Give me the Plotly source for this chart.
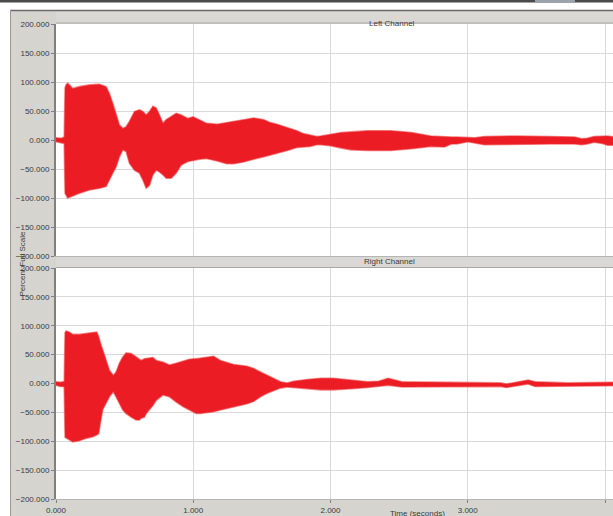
import plotly.graph_objects as go

# ---------------- data ----------------
left_t = [0.000, 0.020, 0.040, 0.060, 0.066, 0.073, 0.085, 0.122, 0.170, 0.243,
          0.316, 0.365, 0.389, 0.414, 0.438, 0.462, 0.487, 0.511, 0.535, 0.572,
          0.608, 0.633, 0.657, 0.681, 0.706, 0.730, 0.754, 0.779, 0.803, 0.839,
          0.876, 0.912, 0.961, 0.998, 1.046, 1.095, 1.175, 1.245, 1.295, 1.365,
          1.440, 1.515, 1.560, 1.610, 1.685, 1.755, 1.800, 1.850, 1.900, 1.930,
          2.000, 2.080, 2.150, 2.270, 2.440, 2.590, 2.730, 2.830, 2.880, 2.920,
          3.000, 3.050, 3.120, 3.360, 3.600, 3.780, 3.830, 3.870, 3.920, 3.980,
          4.020, 4.070]
left_upper = [4, 3, 3, 5, 90, 95, 98, 89, 92, 95,
              96, 92, 80, 63, 46, 26, 20, 23, 32, 49,
              52, 49, 43, 49, 58, 55, 43, 29, 35, 40,
              46, 43, 37, 40, 35, 29, 27, 30, 33, 35,
              38, 35, 30, 27, 22, 16, 11, 8, 6, 7,
              10, 13, 14, 16, 16, 13, 7, 5, 5, 5,
              5, 4, 6, 7, 6, 5, 2, 3, 6, 6,
              7, 5]
left_lower = [-3, -4, -5, -6, -92, -95, -100, -97, -92, -86,
              -83, -80, -69, -57, -46, -29, -17, -20, -40, -52,
              -57, -69, -83, -78, -60, -52, -55, -60, -66, -66,
              -57, -43, -37, -35, -33, -32, -36, -41, -41, -38,
              -33, -29, -27, -23, -18, -13, -12, -11, -8, -8,
              -10, -14, -17, -18, -18, -15, -11, -12, -7, -7,
              -3, -5, -8, -8, -7, -7, -8, -7, -4, -6,
              -9, -9]

right_t = [0.000, 0.030, 0.049, 0.060, 0.066, 0.073, 0.097, 0.122, 0.170, 0.219,
           0.268, 0.297, 0.311, 0.316, 0.329, 0.341, 0.365, 0.389, 0.418, 0.438,
           0.462, 0.487, 0.511, 0.547, 0.584, 0.608, 0.620, 0.645, 0.657, 0.681,
           0.706, 0.730, 0.779, 0.827, 0.876, 0.925, 0.973, 1.022, 1.051, 1.095,
           1.148, 1.197, 1.246, 1.294, 1.392, 1.440, 1.489, 1.538, 1.586, 1.635,
           1.684, 1.732, 1.830, 1.930, 2.020, 2.150, 2.270, 2.350, 2.420, 2.520,
           2.760, 3.000, 3.240, 3.280, 3.320, 3.440, 3.490, 3.730, 4.050, 4.070]
right_upper = [3, 2, 3, 3, 88, 91, 89, 85, 85, 87,
               88, 89, 81, 75, 66, 58, 40, 23, 14, 20,
               35, 46, 53, 52, 46, 41, 40, 43, 43, 44,
               45, 40, 37, 32, 35, 39, 42, 43, 44, 45,
               47, 40, 36, 33, 30, 26, 20, 14, 9, 3,
               1, 4, 7, 9, 9, 6, 3, 4, 9, 3,
               2, 2, 1, -1, 1, 6, 3, 1, 2, 2]
right_lower = [-3, -5, -5, -6, -93, -95, -98, -101, -99, -95,
               -92, -89, -87, -80, -60, -45, -35, -23, -14, -23,
               -35, -46, -52, -58, -63, -63, -60, -58, -52, -46,
               -38, -29, -20, -23, -32, -40, -46, -52, -52, -51,
               -49, -46, -43, -40, -35, -31, -23, -17, -12, -8,
               -6, -7, -9, -11, -11, -9, -7, -5, -3, -6,
               -5, -5, -5, -7, -5, -1, -5, -4, -4, -4]

y_ticks = [-200, -150, -100, -50, 0, 50, 100, 150, 200]
x_ticks = [0, 1, 2, 3, 4]
panel_titles = ["Left Channel", "Right Channel"]
x_title = "Time (seconds)"
y_title = "Percent Full Scale"

# ---------------- layout helpers ----------------
W, H = 613, 516
def px(x):
    return x / W
def py(y):
    return 1 - y / H

RED = "#ec1c24"
EDGE = "rgba(236,40,44,0.55)"
PANEL = "#d6d4cf"
GRID = "#d9d9d9"
TXT = "#3a3a3a"
FONT = "Liberation Sans"

fig = go.Figure()

def band(t, up, lo, xa, ya):
    xs = list(t) + list(t)[::-1]
    ys = list(up) + list(lo)[::-1]
    fig.add_trace(go.Scatter(x=xs, y=ys, xaxis=xa, yaxis=ya, mode="lines",
                             fill="toself", fillcolor=RED,
                             line=dict(color=EDGE, width=1.6),
                             hoverinfo="skip", showlegend=False))

band(left_t, left_upper, left_lower, "x", "y")
band(right_t, right_upper, right_lower, "x2", "y2")

x_range = [0, 557 / 137.25]
yaxis_common = dict(range=[-200, 200], tickvals=y_ticks, tickformat=".3f",
                    showgrid=True, gridcolor=GRID, gridwidth=1, zeroline=False,
                    showline=True, linecolor="#808080", linewidth=2,
                    ticks="outside", ticklen=3, tickcolor="#808080", automargin=False,
                    tickfont=dict(family=FONT, size=8, color=TXT), fixedrange=True)
xaxis_common = dict(range=x_range, tickvals=x_ticks, tickformat=".3f",
                    showgrid=True, gridcolor=GRID, gridwidth=1, zeroline=False,
                    showline=True, linecolor="#b5b5b5", linewidth=1, automargin=False,
                    tickfont=dict(family=FONT, size=8, color=TXT), fixedrange=True)

fig.update_layout(
    width=W, height=H,
    margin=dict(l=0, r=0, t=0, b=0, pad=0),
    paper_bgcolor=PANEL, plot_bgcolor="white",
    showlegend=False,
    xaxis=dict(**xaxis_common, domain=[px(56), 1], anchor="y",
               showticklabels=False, ticks=""),
    yaxis=dict(**yaxis_common, domain=[py(256), py(24)], anchor="x"),
    xaxis2=dict(**xaxis_common, domain=[px(56), 1], anchor="y2",
                ticks="outside", ticklen=3, tickcolor="#808080"),
    yaxis2=dict(**yaxis_common, domain=[py(499), py(268)], anchor="x2"),
)

shapes = []
def rect(x0, y0, x1, y1, color, line=None):
    shapes.append(dict(type="rect", xref="paper", yref="paper",
                       x0=px(x0), x1=px(x1), y0=py(y1), y1=py(y0),
                       fillcolor=color, line=dict(width=0) if line is None else line,
                       layer="below"))
def hline(x0, x1, y, color, w=1):
    shapes.append(dict(type="line", xref="paper", yref="paper",
                       x0=px(x0), x1=px(x1), y0=py(y), y1=py(y),
                       line=dict(color=color, width=w), layer="below"))
def vline(x, y0, y1, color, w=1):
    shapes.append(dict(type="line", xref="paper", yref="paper",
                       x0=px(x), x1=px(x), y0=py(y0), y1=py(y1),
                       line=dict(color=color, width=w), layer="below"))

# white surround outside the grey panel
rect(0, 0, 10, H, "white")
rect(0, 0, W, 10, "white")
rect(0, 0, W, 2.5, "#4a4a4a")
rect(535, 0, 575, 2.5, "#9aa3ad")
hline(10, W, 10.5, "#6a6a6a", 1.5)
vline(10.5, 10, H, "#9a9a9a", 1)
# title bars
rect(56, 12, W, 23, "#d9d8d4")
hline(56, W, 23, "#a8a8a8", 1)
rect(56, 257, W, 267, "#d9d8d4")
hline(56, W, 256.5, "#9a9a9a", 1)
hline(56, W, 267.5, "#a8a8a8", 1)

fig.update_layout(shapes=shapes)

ann = []
ann.append(dict(text=panel_titles[0], x=px(417), y=py(17), xref="paper", yref="paper",
                showarrow=False, font=dict(family=FONT, size=8, color=TXT)))
ann.append(dict(text=panel_titles[1], x=px(417), y=py(261.5), xref="paper", yref="paper",
                showarrow=False, font=dict(family=FONT, size=8, color=TXT)))
ann.append(dict(text=x_title, x=px(417), y=py(507), xref="paper", yref="paper",
                xanchor="center", yanchor="top", showarrow=False,
                font=dict(family=FONT, size=8, color=TXT)))
ann.append(dict(text=y_title, x=px(15), y=py(264), xref="paper", yref="paper",
                textangle=-90, showarrow=False, font=dict(family=FONT, size=8, color=TXT)))
fig.update_layout(annotations=ann)

fig.write_html("out.html", config={"displayModeBar": False},
               post_script="document.body.style.margin='0';document.body.style.overflow='hidden';")
